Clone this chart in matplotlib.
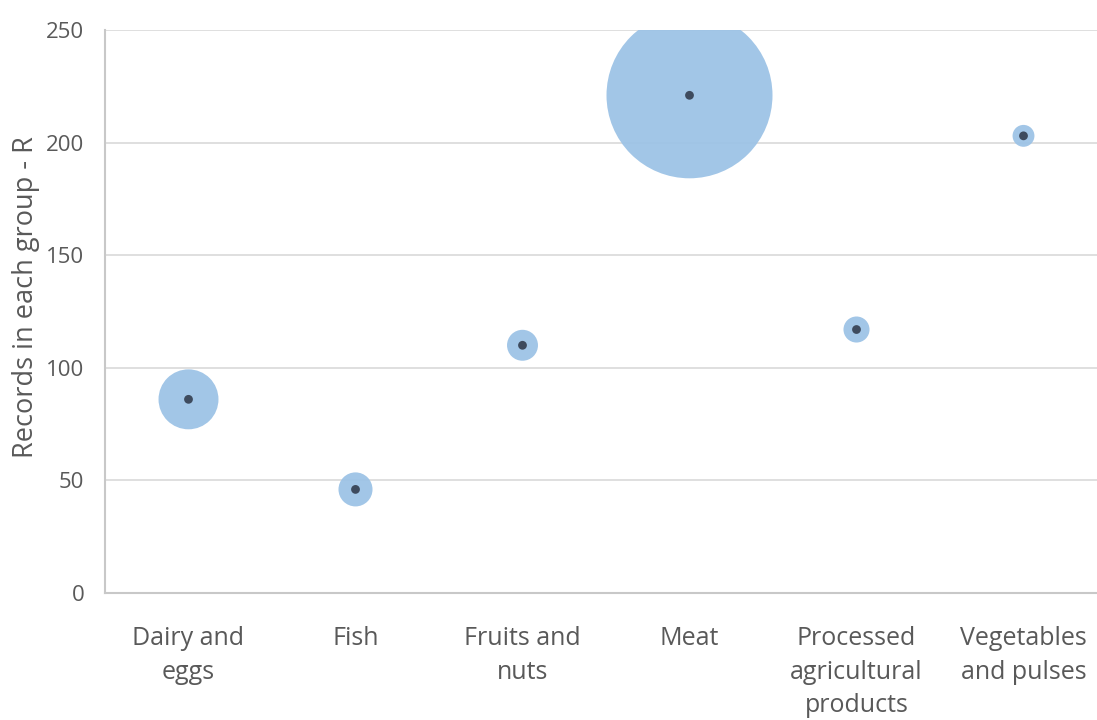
import matplotlib
matplotlib.use("Agg")
import matplotlib.pyplot as plt
import numpy as np

categories = ["Dairy and\neggs", "Fish", "Fruits and\nnuts", "Meat",
              "Processed\nagricultural\nproducts", "Vegetables\nand pulses"]
records = [86, 46, 110, 221, 117, 203]
# relative bubble size values (area-proportional)
bubble_size = [90, 29, 24, 690, 17, 12]
yticks = [0, 50, 100, 150, 200, 250]

plt.rcParams['font.family'] = ['Open Sans', 'DejaVu Sans']
text_color = "#595959"

fig = plt.figure(figsize=(10.97, 7.2), dpi=100)
ax = fig.add_axes([105/1097, (720-593)/720, 1002/1097, 563/720])

x = np.arange(len(categories))
scale = 14285 / 690
ax.scatter(x, records, s=np.array(bubble_size) * scale, color="#9DC3E6",
           alpha=0.95, edgecolors="none", zorder=3)
ax.scatter(x, records, s=40, color="#3E4B5E", edgecolors="none", zorder=4)

ax.set_xlim(-0.5, len(categories) - 0.5)
ax.set_ylim(0, 250)
ax.set_yticks(yticks)
ax.set_xticks(x)
ax.set_xticklabels(categories, fontsize=18, color=text_color, linespacing=1.45)
ax.tick_params(axis='y', labelsize=16, labelcolor=text_color, length=0, pad=15)
ax.tick_params(axis='x', length=0, pad=24)
ax.set_ylabel("Records in each group - R", fontsize=19.5, color=text_color)
ax.yaxis.set_label_coords(-0.065, 0.526)

ax.grid(axis='y', color="#D9D9D9", linewidth=1.2, zorder=0)
ax.set_axisbelow(True)
for s in ["top", "right"]:
    ax.spines[s].set_visible(False)
for s in ["left", "bottom"]:
    ax.spines[s].set_color("#C8C8C8")
    ax.spines[s].set_linewidth(1.5)

fig.savefig("out.png", dpi=100)
